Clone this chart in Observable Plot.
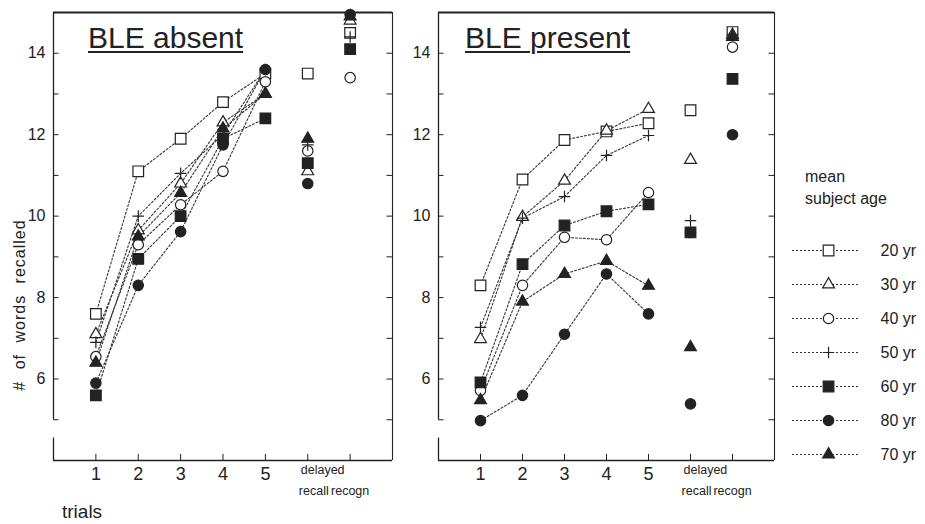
<!DOCTYPE html>
<html><head><meta charset="utf-8">
<script src="https://cdn.jsdelivr.net/npm/d3@7"></script>
<script src="https://cdn.jsdelivr.net/npm/@observablehq/plot@0.6"></script>
<style>
body{margin:0;background:#fff;font-family:"Liberation Sans",Arial,sans-serif;color:#222}
#wrap{position:relative;width:925px;height:524px;overflow:hidden;background:#fff}
.abs{position:absolute;white-space:nowrap;line-height:1}
#wrap svg{position:absolute;top:0;overflow:visible}
.title{font-size:30px;text-decoration:underline;text-decoration-thickness:2px;text-underline-offset:3px}
</style></head><body><div id="wrap"></div>
<script>
// ---- data ----
const trialLabels = ["1","2","3","4","5"];
const extraLabels = ["delayed","recall","recogn"];
const ages = ["20 yr","30 yr","40 yr","50 yr","60 yr","80 yr","70 yr"];
const symbols = ["square","triangle","circle","plus","square","circle","triangle"];
const filled = [false,false,false,false,true,true,true];
// columns: trial 1..5, delayed recall, recognition (rows follow `ages`)
const bleAbsent = [
  [7.6, 11.1, 11.9, 12.8, 13.5, 13.5, 14.5],
  [7.1, 9.65, 10.8, 12.3, 13.0, 11.1, 14.8],
  [6.55, 9.3, 10.28, 11.1, 13.3, 11.6, 13.4],
  [6.9, 10.0, 11.05, 12.0, 13.6, 11.75, 14.4],
  [5.6, 8.95, 10.0, 11.9, 12.4, 11.3, 14.1],
  [5.9, 8.3, 9.62, 11.75, 13.6, 10.8, 14.95],
  [6.4, 9.5, 10.57, 12.15, 13.0, 11.9, 14.9]
];
const blePresent = [
  [8.3, 10.9, 11.87, 12.08, 12.28, 12.6, 14.52],
  [6.98, 9.98, 10.87, 12.1, 12.63, 11.38, 14.45],
  [5.72, 8.3, 9.48, 9.42, 10.58, 9.6, 14.15],
  [7.27, 9.95, 10.48, 11.49, 11.98, 9.89, 14.45],
  [5.92, 8.82, 9.77, 10.12, 10.29, 9.6, 13.37],
  [4.98, 5.6, 7.1, 8.58, 7.6, 5.39, 12.0],
  [5.48, 7.9, 8.58, 8.9, 8.29, 6.78, 14.4]
];
const yTickLabels = [6, 8, 10, 12, 14];

// ---- helpers ----
const ink = "#222";
const rOf = {square: 6.0, circle: 5.2, triangle: 4.4, plus: 3.8};
function toRows(values) {
  const out = [];
  values.forEach((arr, i) => arr.forEach((v, j) => out.push({age: ages[i], idx: i, pos: j + 1, value: v})));
  return out;
}
function dotMarks(rows, xAcc, yAcc) {
  return ages.map((a, i) => Plot.dot(rows.filter(d => d.idx === i), {
    x: xAcc, y: yAcc, symbol: symbols[i], r: rOf[symbols[i]],
    fill: symbols[i] === "plus" ? "none" : (filled[i] ? ink : "white"),
    stroke: ink, strokeWidth: 1.2
  }));
}

function panel(values, left, marginRight) {
  const rows = toRows(values);
  const yTicks = d3.range(5, 16);
  const xTicks = d3.range(1, 8);
  const svg = Plot.plot({
    width: 400, height: 524,
    marginTop: 12, marginBottom: 64, marginLeft: 53, marginRight,
    x: {domain: [0, 8], axis: null},
    y: {domain: [4, 15], axis: null},
    style: {fontFamily: "'Liberation Sans', Arial, sans-serif", color: ink, background: "transparent", overflow: "visible"},
    marks: [
      Plot.ruleY([15], {x1: 0, x2: 8, stroke: ink, strokeWidth: 1.8}),
      Plot.ruleY([4], {x1: 0, x2: 8, stroke: ink, strokeWidth: 1.3}),
      Plot.ruleX([8], {y1: 4, y2: 15, stroke: ink, strokeWidth: 1.1}),
      Plot.ruleX([0], {y1: 5, y2: 15, stroke: ink, strokeWidth: 1.3}),
      Plot.ruleX([0], {y1: 4, y2: 4.55, stroke: ink, strokeWidth: 1.3}),
      Plot.ruleY(yTicks, {y: d => d, x1: 0, x2: 0.13, stroke: ink}),
      Plot.ruleY(yTicks, {y: d => d, x1: 7.87, x2: 8, stroke: ink}),
      Plot.ruleX(xTicks, {x: d => d, y1: 4, y2: 4.15, stroke: ink}),
      Plot.axisY({ticks: yTickLabels, tickSize: 0, tickPadding: 8, fontSize: 16, label: null}),
      Plot.text(trialLabels, {x: (d, i) => i + 1, y: 4, dy: 14, text: d => d, fontSize: 18, fill: ink}),
      Plot.text([extraLabels[0]], {x: 6, y: 4, dy: 9, dx: -7, text: d => d, textAnchor: "start", fontSize: 12.5, fill: ink}),
      Plot.text([extraLabels[1]], {x: 6, y: 4, dy: 30, dx: 6, text: d => d, fontSize: 12.5, fill: ink}),
      Plot.text([extraLabels[2]], {x: 7, y: 4, dy: 30, text: d => d, fontSize: 12.5, fill: ink}),
      Plot.line(rows.filter(d => d.pos <= 5), {x: "pos", y: "value", z: "age", stroke: "#333", strokeWidth: 1.1, strokeDasharray: "2,2"}),
      ...dotMarks(rows, "pos", "value")
    ]
  });
  svg.style.left = left + "px";
  return svg;
}

const wrap = document.getElementById("wrap");
wrap.appendChild(panel(bleAbsent, 0, 8));
wrap.appendChild(panel(blePresent, 385, 11));

// legend
const legRows = ages.map((a, i) => ({age: a, idx: i}));
const leg = Plot.plot({
  width: 150, height: 524, margin: 0,
  x: {domain: [0, 1], range: [17, 85], axis: null},
  y: {type: "point", domain: ages, range: [249, 455], padding: 0, axis: null},
  style: {fontFamily: "'Liberation Sans', Arial, sans-serif", color: ink, background: "transparent", overflow: "visible"},
  marks: [
    Plot.ruleY(legRows, {y: "age", x1: 0, x2: 1, stroke: "#333", strokeWidth: 1.1, strokeDasharray: "2,2"}),
    ...dotMarks(legRows, () => 0.53, "age"),
    Plot.text(legRows, {x: 1, y: "age", dx: 20, text: "age", textAnchor: "start", fontSize: 16, fill: ink})
  ]
});
leg.style.left = "775px";
wrap.appendChild(leg);

// texts
function addText(html, css, cls) {
  const d = document.createElement("div");
  d.className = "abs" + (cls ? " " + cls : "");
  d.textContent = html;
  Object.assign(d.style, css);
  wrap.appendChild(d);
}
addText("BLE absent", {left: "88px", top: "23px"}, "title");
addText("BLE present", {left: "465px", top: "23px"}, "title");
addText("mean", {left: "805px", top: "169px", fontSize: "16px"});
addText("subject age", {left: "805px", top: "191px", fontSize: "16px"});
addText("trials", {left: "62px", top: "502px", fontSize: "19px"});
addText("# of words recalled", {left: "20px", top: "305px", fontSize: "16px", letterSpacing: "1px", wordSpacing: "6px", transform: "translate(-50%,-50%) rotate(-90deg)"});
</script></body></html>
